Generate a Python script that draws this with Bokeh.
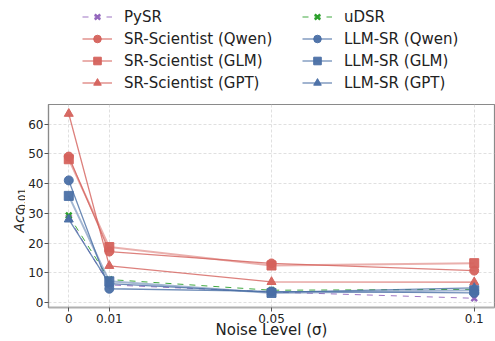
from bokeh.plotting import figure
from bokeh.models import Range1d, FixedTicker, Legend, LegendItem, Label
from bokeh.layouts import row, column
from bokeh.embed import file_html
from bokeh.resources import INLINE
import math

noise = [0, 0.01, 0.05, 0.1]
x_ticks = [0, 0.01, 0.05, 0.1]
x_tick_labels = {0: "0", 0.01: "0.01", 0.05: "0.05", 0.1: "0.1"}
y_ticks = [0, 10, 20, 30, 40, 50, 60]

pysr = [28.5, 6.0, 3.6, 1.5]
udsr = [29.3, 7.8, 4.2, 4.5]
sr_qwen = [49.1, 17.2, 13.2, 10.8]
sr_glm = [48.2, 18.7, 12.5, 13.3]
sr_gpt = [63.5, 12.4, 7.0, 6.9]
llm_qwen = [41.1, 4.7, 3.8, 3.3]
llm_glm = [35.9, 7.2, 3.3, 4.2]
llm_gpt = [28.0, 6.4, 3.5, 5.0]

RED = "#d5625c"
BLUE = "#4a6fa5"
PURPLE = "#9467bd"
GREEN = "#2ca02c"

series = [
    ("PySR", pysr, PURPLE, "x", "dashed", 1.0, 0.9, 8),
    ("SR-Scientist (Qwen)", sr_qwen, RED, "circle", "solid", 1.3, 0.8, 9),
    ("SR-Scientist (GLM)", sr_glm, RED, "square", "solid", 2.0, 0.5, 9),
    ("SR-Scientist (GPT)", sr_gpt, RED, "triangle", "solid", 1.3, 0.8, 9),
    ("uDSR", udsr, GREEN, "x", "dashed", 1.0, 0.9, 8),
    ("LLM-SR (Qwen)", llm_qwen, BLUE, "circle", "solid", 1.3, 0.8, 9),
    ("LLM-SR (GLM)", llm_glm, BLUE, "square", "solid", 2.0, 0.5, 9),
    ("LLM-SR (GPT)", llm_gpt, BLUE, "triangle", "solid", 1.3, 0.8, 9),
]

TEXT = "#222222"
W, H = 495, 341
TOP_H = 104
LEFT_W = 25
FRAME_BOTTOM = 307
XR = (-0.005, 0.105)
YR = (-1.6, 66.6)


def bare(fig):
    fig.axis.visible = False
    fig.grid.visible = False
    fig.outline_line_color = None
    fig.background_fill_color = "white"
    fig.border_fill_color = "white"


def draw_series(fig, visible=True):
    out = []
    for name, vals, color, marker, dash, lw, la, size in series:
        r1 = fig.line(noise, vals, line_color=color, line_width=lw, line_alpha=la,
                      line_dash=dash, visible=visible)
        if marker == "x":
            r2 = fig.scatter(noise, vals, marker="x", size=size, line_color=color,
                             line_width=2.5, visible=visible)
        else:
            r2 = fig.scatter(noise, vals, marker=marker, size=size, fill_color=color,
                             line_color=color, fill_alpha=0.95, line_alpha=0.95,
                             visible=visible)
        out.append((name, r1, r2))
    return out


# ---- legend panel on top ----
leg_fig = figure(width=W, height=TOP_H, output_backend="svg", toolbar_location=None,
                 x_range=Range1d(*XR), y_range=Range1d(*YR),
                 min_border_left=0, min_border_right=0, min_border_top=0, min_border_bottom=0)
bare(leg_fig)
leg_items = [LegendItem(label=n, renderers=[a, b]) for n, a, b in draw_series(leg_fig, visible=False)]
legend = Legend(items=leg_items, location=(82, 12), orientation="vertical", nrows=4,
                click_policy="none",
                label_text_font="DejaVu Sans", label_text_font_size="15px",
                label_text_color=TEXT,
                glyph_width=30, glyph_height=19, label_height=19, label_width=175,
                label_standoff=12, spacing=3, padding=0, margin=0,
                border_line_alpha=0, background_fill_alpha=0)
leg_fig.add_layout(legend, "center")

# ---- y-axis label panel (Acc with subscript 0.01); y measured up from frame bottom ----
lab = figure(width=LEFT_W, height=H - TOP_H, output_backend="svg", toolbar_location=None,
             x_range=Range1d(0, 1), y_range=Range1d(0, 1),
             min_border_left=0, min_border_right=0, min_border_top=0, min_border_bottom=0)
bare(lab)
lab.add_layout(Label(x=18, y=FRAME_BOTTOM - 232, x_units="screen", y_units="screen", text="Acc",
                     angle=math.pi / 2, text_align="left", text_baseline="alphabetic",
                     text_font="DejaVu Sans", text_font_style="italic",
                     text_font_size="14px", text_color=TEXT))
lab.add_layout(Label(x=21, y=FRAME_BOTTOM - 210, x_units="screen", y_units="screen", text="0.01",
                     angle=math.pi / 2, text_align="left", text_baseline="alphabetic",
                     text_font="DejaVu Sans", text_font_size="10px", text_color=TEXT))

# ---- main plot ----
p = figure(width=W - LEFT_W, height=H - TOP_H, output_backend="svg", toolbar_location=None,
           x_range=Range1d(*XR), y_range=Range1d(*YR),
           min_border_left=45 - LEFT_W, min_border_top=0, min_border_right=1,
           min_border_bottom=32)
p.background_fill_color = "white"
p.border_fill_color = "white"
p.outline_line_color = "#8a8a8a"
p.outline_line_width = 1.2

p.xaxis.ticker = FixedTicker(ticks=x_ticks)
p.xaxis.major_label_overrides = x_tick_labels
p.yaxis.ticker = FixedTicker(ticks=y_ticks)
for ax in (p.xaxis, p.yaxis):
    ax.major_label_text_font = "DejaVu Sans"
    ax.major_label_text_font_size = "12px"
    ax.major_label_text_color = TEXT
    ax.major_tick_line_color = "#555555"
    ax.major_tick_out = 4
    ax.major_tick_in = 0
    ax.minor_tick_line_color = None
p.yaxis.major_label_standoff = 1
p.xaxis.major_label_standoff = 2
p.xaxis.axis_line_color = "#b0b0b0"
p.xaxis.axis_line_width = 2
p.yaxis.axis_line_color = "#8a8a8a"
p.yaxis.axis_line_width = 1.2
p.xaxis.axis_label = "Noise Level (σ)"
p.xaxis.axis_label_text_font = "DejaVu Sans"
p.xaxis.axis_label_text_font_style = "normal"
p.xaxis.axis_label_text_font_size = "15px"
p.xaxis.axis_label_text_color = TEXT
p.xaxis.axis_label_standoff = -5

for g in (p.xgrid, p.ygrid):
    g.grid_line_color = "#d8d8d8"
    g.grid_line_dash = "3 2"
    g.grid_line_width = 0.8

draw_series(p)

layout = column(leg_fig, row(lab, p, spacing=0), spacing=0)
open("out.html", "w").write(file_html(layout, INLINE))
